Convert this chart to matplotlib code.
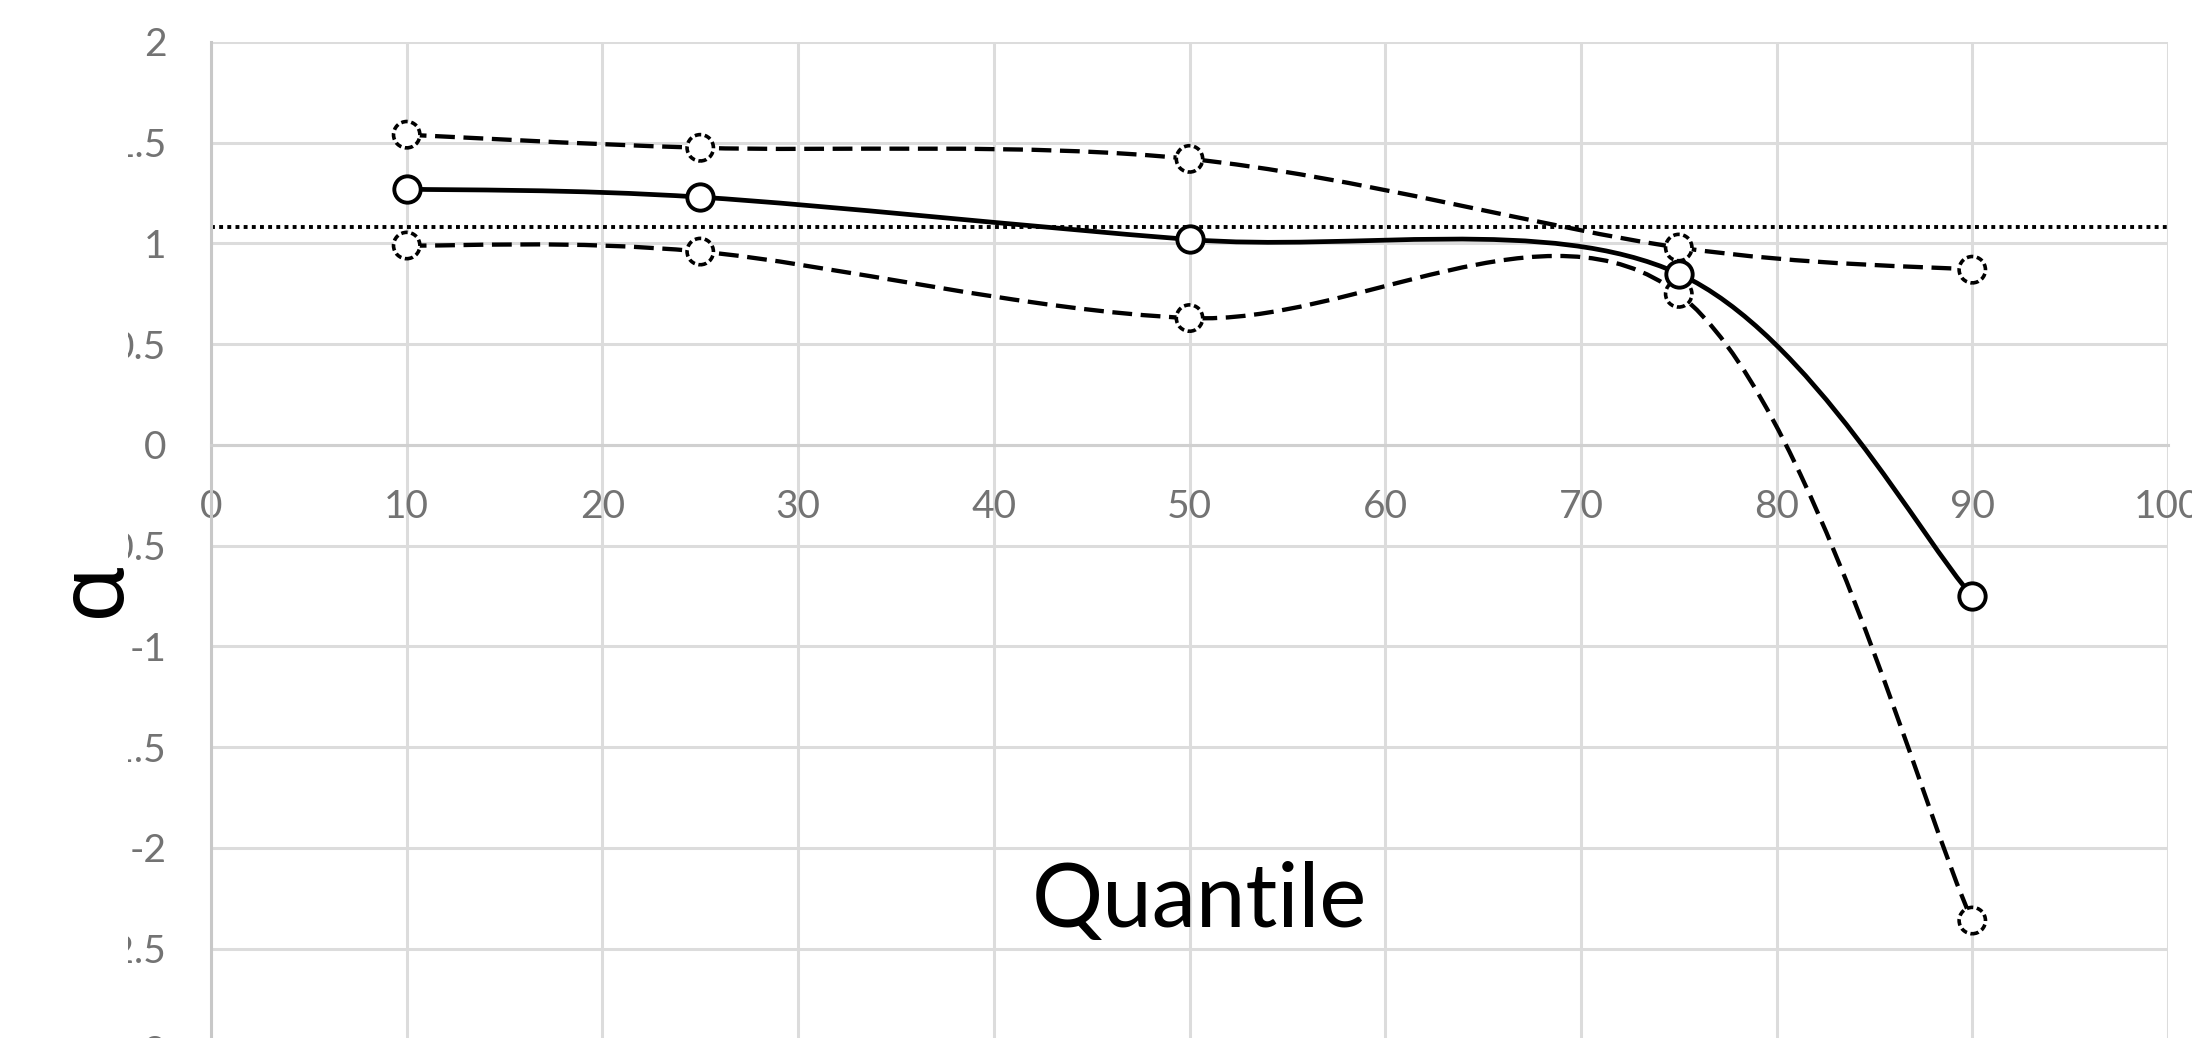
import numpy as np
import matplotlib
matplotlib.use("Agg")
import matplotlib.pyplot as plt
from matplotlib.path import Path
from matplotlib.patches import PathPatch, Rectangle

plt.rcParams['axes.unicode_minus'] = False

# ---- data ----
quantiles = [10, 25, 50, 75, 90]
upper_band = [1.54, 1.475, 1.42, 0.98, 0.87]
estimate = [1.27, 1.23, 1.02, 0.85, -0.75]
lower_band = [0.99, 0.96, 0.63, 0.75, -2.36]
reference_level = 1.08
x_ticks = [0, 10, 20, 30, 40, 50, 60, 70, 80, 90, 100]
y_ticks = [-3, -2.5, -2, -1.5, -1, -0.5, 0, 0.5, 1, 1.5, 2]
x_label = "Quantile"
y_label = "α"


def smooth_path(xs, ys):
    """Excel-like smoothed line: cubic Bezier segments with Catmull-Rom controls."""
    pts = np.column_stack([xs, ys]).astype(float)
    n = len(pts)
    verts = [pts[0]]
    codes = [Path.MOVETO]
    for i in range(n - 1):
        p0 = pts[i - 1] if i > 0 else pts[i]
        p1 = pts[i]
        p2 = pts[i + 1]
        p3 = pts[i + 2] if i + 2 < n else pts[i + 1]
        c1 = p1 + (p2 - p0) / 6.0
        c2 = p2 - (p3 - p1) / 6.0
        verts += [c1, c2, p2]
        codes += [Path.CURVE4] * 3
    return Path(np.array(verts), codes)


W, H = 2192, 1038
fig = plt.figure(figsize=(W / 100, H / 100), dpi=100)
fig.patch.set_facecolor('white')

left = 211 / W
right = 2168 / W
top = 1 - 42 / H
bottom = 1 - 1049.5 / H
ax = fig.add_axes([left, bottom, right - left, top - bottom])
ax.set_xlim(0, 100)
ax.set_ylim(-3, 2)

grid_c = '#dcdcdc'
ax.set_xticks(x_ticks)
ax.set_yticks(y_ticks)
ax.set_xticklabels([f"{v:g}" for v in x_ticks])
ax.set_yticklabels([f"{v:g}" for v in y_ticks])
ax.grid(True, color=grid_c, linewidth=2.2, zorder=0)
ax.set_axisbelow(True)

for s in ['top', 'right']:
    ax.spines[s].set_visible(False)
ax.spines['bottom'].set_position(('data', 0))
ax.spines['bottom'].set_color('#d0d0d0')
ax.spines['bottom'].set_linewidth(2.2)
ax.spines['left'].set_color('#c8c8c8')
ax.spines['left'].set_linewidth(2.2)

tick_family = ['Lato', 'DejaVu Sans']
ax.tick_params(axis='both', length=0, colors='#737373')
ax.tick_params(axis='y', pad=32)
ax.tick_params(axis='x', pad=32)
for lab in ax.get_xticklabels() + ax.get_yticklabels():
    lab.set_fontfamily(tick_family)
    lab.set_fontsize(28)

# reference dotted line
ax.axhline(reference_level, color='black', linewidth=2.8,
           linestyle=(0, (1.0, 1.1)), zorder=2)

# smoothed lines
dash = (0, (4.6, 2.0))
for ys, ls, lw in [(upper_band, dash, 3.1), (lower_band, dash, 3.1), (estimate, '-', 3.4)]:
    patch = PathPatch(smooth_path(quantiles, ys), facecolor='none',
                      edgecolor='black', linewidth=lw, linestyle=ls,
                      capstyle='butt', zorder=3)
    ax.add_patch(patch)

# markers
for ys in (upper_band, lower_band):
    ax.scatter(quantiles, ys, s=360, facecolor='white', edgecolor='black',
               linewidth=2.6, linestyle=(0, (1.8, 1.0)), zorder=4)
ax.scatter(quantiles, estimate, s=360, facecolor='white', edgecolor='black',
           linewidth=2.8, zorder=4)

# x axis title
ax.text(50.5, -2.27, x_label, fontsize=64, family=['Lato', 'DejaVu Sans'],
        ha='center', va='center', color='black', zorder=5)

# y axis title box (white, lies over the left part of the tick labels as in the reference)
fig.add_artist(Rectangle((0, 0), 128 / W, 1 - 80 / H, transform=fig.transFigure,
                         facecolor='white', edgecolor='none', zorder=5))
fig.text(95 / W, 1 - 588 / H, y_label, fontsize=66,
         family=['Noto Sans', 'DejaVu Sans'], rotation=90,
         ha='center', va='center', color='black', zorder=6)

fig.savefig('out.png', dpi=100, facecolor='white')
